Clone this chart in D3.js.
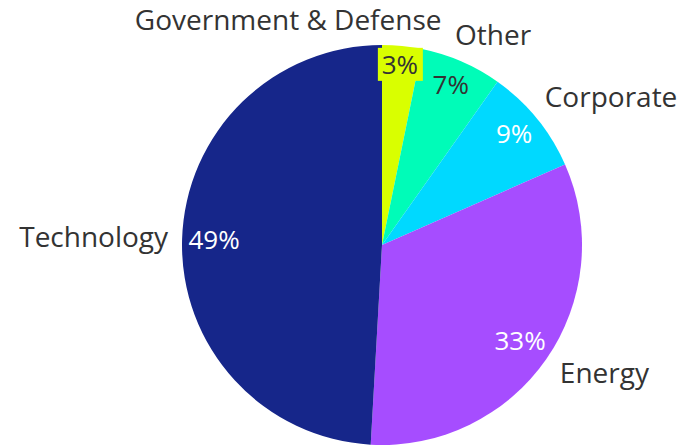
<!DOCTYPE html>
<html>
<head>
<meta charset="utf-8">
<script src="https://cdn.jsdelivr.net/npm/d3@7"></script>
<style>
  body { margin: 0; background: #fff; }
  text { font-family: "Open Sans", sans-serif; }
</style>
</head>
<body>
<div id="chart-area"></div>
<script>
let width = 682,
height = 446;

// data
let sectors = ['Government & Defense', 'Other', 'Corporate', 'Energy', 'Technology']
let shares = [3.2, 6.6, 8.6, 32.5, 49.1]
let percentLabels = ['3%', '7%', '9%', '33%', '49%']
let colors = ['#d9ff00', '#00fcb8', '#00d9ff', '#a64dff', '#16268a']
let percentColors = ['#333333', '#333333', '#ffffff', '#ffffff', '#ffffff']

let svg = d3.select('#chart-area').append('svg')
  .attr('width', width)
  .attr('height', height)

let cx = 382, cy = 245, radius = 200

let g = svg.append('g').attr('transform', 'translate(' + cx + ',' + cy + ')')

let data = sectors.map((s, i) => ({name: s, value: shares[i], label: percentLabels[i], color: colors[i], textColor: percentColors[i]}))

let pie = d3.pie().sort(null).value(d => d.value)
let arcs = pie(data)

let arc = d3.arc().innerRadius(0).outerRadius(radius)

g.selectAll('path')
  .data(arcs)
  .enter()
  .append('path')
  .attr('d', arc)
  .attr('fill', d => d.data.color)

// small tweaks so labels sit like the original
let outerNudge = [[38, -12], [-12, -13], [-3, -12], [2, 6], [0, -2]]
let innerNudge = [[1, -13], [2, -6], [2, -5], [0, 0], [0, 0]]

let mid = d => (d.startAngle + d.endAngle) / 2

// percent labels
let inner = g.selectAll('.pct')
  .data(arcs)
  .enter().append('g')
  .attr('class', 'pct')
  .attr('transform', (d, i) => {
    let a = mid(d), r = 168
    let n = innerNudge[i]
    return 'translate(' + (Math.sin(a) * r + n[0]) + ',' + (-Math.cos(a) * r + n[1]) + ')'
  })

inner.each(function(d, i) {
  if (i === 0) {
    d3.select(this).append('rect')
      .attr('x', -22).attr('y', -17)
      .attr('width', 45).attr('height', 33)
      .attr('fill', d.data.color)
  }
})

inner.append('text')
  .attr('text-anchor', 'middle')
  .attr('dy', '0.35em')
  .attr('font-size', 26)
  .attr('fill', d => d.data.textColor)
  .text(d => d.data.label)

// outside labels
g.selectAll('.outer')
  .data(arcs)
  .enter().append('text')
  .attr('class', 'outer')
  .attr('font-size', 28)
  .attr('fill', '#333333')
  .attr('dy', '0.35em')
  .attr('text-anchor', d => Math.sin(mid(d)) > 0.15 ? 'start' : 'end')
  .attr('x', (d, i) => Math.sin(mid(d)) * 214 + outerNudge[i][0])
  .attr('y', (d, i) => -Math.cos(mid(d)) * 214 + outerNudge[i][1])
  .text(d => d.data.name)
</script>
</body>
</html>
